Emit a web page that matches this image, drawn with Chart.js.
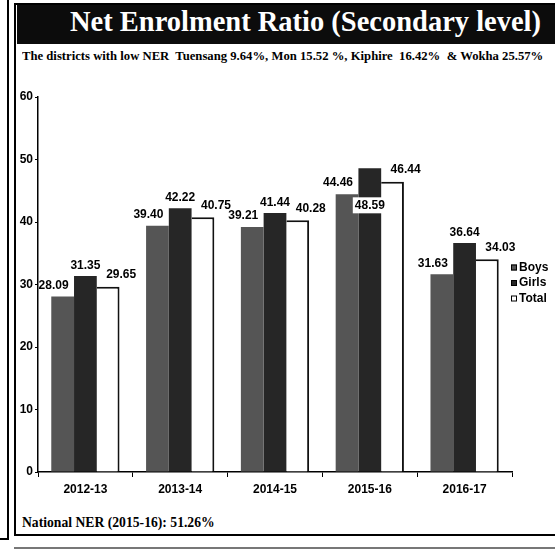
<!DOCTYPE html>
<html>
<head>
<meta charset="utf-8">
<script src="https://cdn.jsdelivr.net/npm/chart.js@4.4.0/dist/chart.umd.min.js"></script>
<style>
  html, body { margin: 0; padding: 0; background: #fff; }
  #page { position: relative; width: 555px; height: 550px; overflow: hidden; background: #fff; }
  .line { position: absolute; background: #000; }
  #box { position: absolute; left: 14px; top: 3px; width: 545px; height: 529px; border: 2px solid #000; border-right: none; }
  #banner { position: absolute; left: 17px; top: 5px; width: 540px; height: 39px; background: #0c0c0c; }
  #title { position: absolute; left: 70px; top: 4px; color: #fff; white-space: pre;
    font: bold 30px "Liberation Serif", "DejaVu Serif", serif; transform-origin: left top; }
  #sub { position: absolute; left: 22px; top: 49px; font: bold 12px "Liberation Serif", serif; color: #000;
    white-space: pre; transform-origin: left top; }
  #foot { position: absolute; left: 22px; top: 514px; font: bold 15px "Liberation Serif", serif; color: #000;
    white-space: pre; transform-origin: left top; }
  canvas { position: absolute; left: 0; top: 0; }
</style>
</head>
<body>
<div id="page">
  <div class="line" style="left:7px;top:0;width:2px;height:540px"></div>
  <div class="line" style="left:0;top:538px;width:9px;height:2px"></div>
  <div class="line" style="left:14px;top:547px;width:541px;height:2px;background:#777"></div>
  <div id="box"></div>
  <div id="banner"></div>
  <div id="title">Net Enrolment Ratio (Secondary level)</div>
  <div id="sub">The districts with low NER  Tuensang 9.64%, Mon 15.52 %, Kiphire  16.42%  &amp; Wokha 25.57%</div>
  <div id="foot">National NER (2015-16): 51.26%</div>
  <canvas id="nerChart" width="555" height="550"></canvas>
</div>
<script>
const years = ['2012-13', '2013-14', '2014-15', '2015-16', '2016-17'];
const boys = [28.09, 39.40, 39.21, 44.46, 31.63];
const girls = [31.35, 42.22, 41.44, 48.59, 36.64];
const total = [29.65, 40.75, 40.28, 46.44, 34.03];
const yTicks = [0, 10, 20, 30, 40, 50, 60];

const sans = '"Liberation Sans", Arial, sans-serif';

// value labels: boys pushed left, total pushed right, tallest bar labelled inside (as in the scan)
const barLabels = {
  id: 'barLabels',
  afterDatasetsDraw(chart) {
    const ctx = chart.ctx;
    let maxVal = 0;
    chart.data.datasets.forEach(ds => ds.data.forEach(v => { if (v > maxVal) maxVal = v; }));
    ctx.save();
    ctx.font = 'bold 12px ' + sans;
    chart.data.datasets.forEach((ds, i) => {
      const meta = chart.getDatasetMeta(i);
      meta.data.forEach((bar, j) => {
        const txt = ds.data[j].toFixed(2);
        ctx.fillStyle = '#000';
        if (ds.data[j] === maxVal) {
          const w = ctx.measureText(txt).width + 4;
          ctx.fillStyle = '#fff';
          ctx.fillRect(bar.x - w / 2, bar.y + 29, w, 16);
          ctx.fillStyle = '#000';
          ctx.textAlign = 'center';
          ctx.textBaseline = 'middle';
          ctx.fillText(txt, bar.x, bar.y + 37);
          return;
        }
        ctx.textBaseline = 'bottom';
        if (i === 0) {
          ctx.textAlign = 'right';
          ctx.fillText(txt, bar.x + 6, bar.y - 5);
        } else if (i === 2) {
          ctx.textAlign = 'left';
          ctx.fillText(txt, bar.x - 2, bar.y - 6);
        } else {
          ctx.textAlign = 'center';
          ctx.fillText(txt, bar.x, bar.y - 4);
        }
      });
    });
    ctx.restore();
  }
};

// small legend hugging the right end of the axis
const sideLegend = {
  id: 'sideLegend',
  afterDraw(chart) {
    const ctx = chart.ctx;
    const a = chart.chartArea;
    const x = a.right - 1;
    const y0 = (a.top + a.bottom) / 2 - 17;
    ctx.save();
    ctx.font = 'bold 12px ' + sans;
    ctx.textAlign = 'left';
    ctx.textBaseline = 'middle';
    chart.data.datasets.forEach((ds, i) => {
      const y = y0 + i * 15.5;
      ctx.fillStyle = ds.backgroundColor;
      ctx.fillRect(x, y - 3, 6, 6);
      ctx.strokeStyle = '#000';
      ctx.lineWidth = 1;
      ctx.strokeRect(x + 0.5, y - 2.5, 5, 5);
      ctx.fillStyle = '#000';
      ctx.fillText(ds.label, x + 8, y);
    });
    ctx.restore();
  }
};

// squeeze the header/footer text to the widths of the scan
const fit = (id, w) => {
  const el = document.getElementById(id);
  el.style.transform = 'scaleX(' + (w / el.offsetWidth) + ')';
};
fit('title', 471);
fit('sub', 521);
fit('foot', 193);

const ctx = document.getElementById('nerChart').getContext('2d');
const nerChart = new Chart(ctx, {
  type: 'bar',
  data: {
    labels: years,
    datasets: [
      { label: 'Boys', data: boys, backgroundColor: '#555555', borderWidth: 0 },
      { label: 'Girls', data: girls, backgroundColor: '#262626', borderWidth: 0 },
      { label: 'Total', data: total, backgroundColor: '#ffffff', borderColor: '#111',
        borderWidth: { top: 2, right: 2, left: 0, bottom: 0 } }
    ]
  },
  options: {
    responsive: false,
    animation: false,
    layout: { padding: { top: 97, left: 0, right: 43, bottom: 48 } },
    datasets: { bar: { categoryPercentage: 0.72, barPercentage: 1.0 } },
    scales: {
      x: {
        grid: { display: true, drawOnChartArea: false, tickLength: 5, color: '#000' },
        border: { color: '#000', width: 1.5 },
        ticks: { color: '#000', font: { family: sans, size: 12, weight: 'bold' }, padding: 5 },
        afterFit: s => { s.height = 30; }
      },
      y: {
        min: 0,
        max: 60,
        afterBuildTicks: s => { s.ticks = yTicks.map(v => ({ value: v })); },
        grid: { display: true, drawOnChartArea: false, tickLength: 3, color: '#000' },
        border: { color: '#000', width: 1.5 },
        ticks: { color: '#000', font: { family: sans, size: 12, weight: 'bold' }, padding: 2 },
        afterFit: s => { s.width = 38; }
      }
    },
    plugins: {
      title: { display: false },
      tooltip: { enabled: false },
      legend: { display: false }
    }
  },
  plugins: [barLabels, sideLegend]
});
</script>
</body>
</html>
